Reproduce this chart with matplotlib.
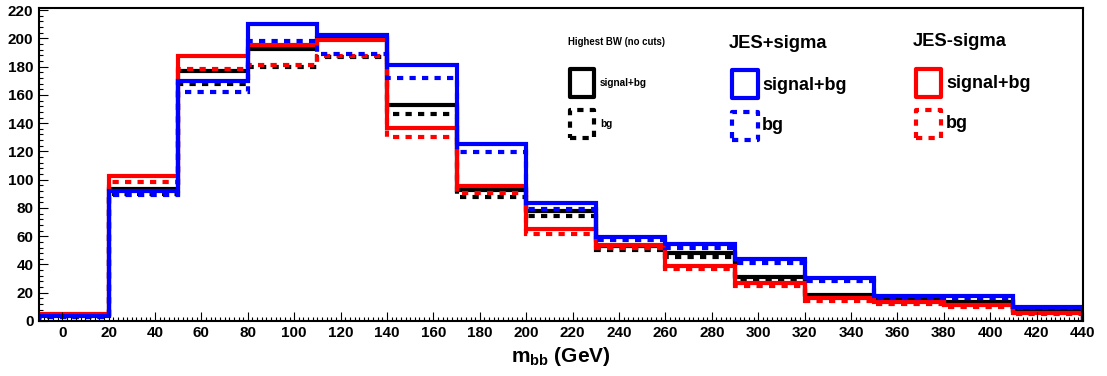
import numpy as np
import matplotlib
matplotlib.use("Agg")
import matplotlib.pyplot as plt
from matplotlib.patches import Rectangle
from matplotlib.ticker import MultipleLocator

plt.rcParams['font.family'] = ['Liberation Sans', 'DejaVu Sans']
plt.rcParams['font.weight'] = 'bold'
plt.rcParams['mathtext.fontset'] = 'custom'
plt.rcParams['mathtext.bf'] = 'Liberation Sans:bold'
plt.rcParams['mathtext.rm'] = 'Liberation Sans:bold'
plt.rcParams['mathtext.it'] = 'Liberation Sans:bold'

# ---- data ----
bin_edges = [-10, 20, 50, 80, 110, 140, 170, 200, 230, 260, 290, 320, 350, 380, 410, 440]

nominal_sig_bg = [4, 93.5, 177, 192.5, 200.5, 153, 92.6, 77.8, 53, 47.9, 31.3, 18.4, 15.5, 13.6, 7.8]
nominal_bg     = [3, 90, 167.5, 180, 187, 146.4, 87.9, 74.5, 50.2, 45.5, 29.5, 17, 15, 12.7, 7]
jes_plus_sig_bg = [3.5, 92, 170, 210, 202.5, 181, 125, 83.7, 59.6, 54.2, 43.6, 30.6, 17.7, 17.7, 9.9]
jes_plus_bg     = [2.5, 89, 162, 198, 188.8, 172.3, 119.7, 79.4, 57.3, 52, 40.8, 28.3, 16, 16.3, 9]
jes_minus_sig_bg = [5, 102.5, 187.7, 195, 198.7, 136.3, 95.5, 64.8, 53.7, 39, 26.7, 16.5, 13.4, 11.1, 5.4]
jes_minus_bg     = [4, 98.5, 178, 181, 187.4, 130, 90.7, 61.3, 51.7, 37, 24.8, 14.4, 12, 10, 4.7]

x_label = r'$\mathbf{m_{bb}}$ (GeV)'
legend_title = "Highest BW (no cuts)"
group_titles = ["JES+sigma", "JES-sigma"]
entry_labels = ["signal+bg", "bg"]

# ---- figure ----
W, H = 1107, 376
fig = plt.figure(figsize=(W / 100, H / 100), dpi=100)
ax = fig.add_axes([39 / W, 1 - 321 / H, (1083 - 39) / W, (321 - 8) / H])

lw = 3.0
dash = (0, (1.5, 1.5))
edges = np.array(bin_edges)
series = [
    (nominal_bg, 'black', dash),
    (nominal_sig_bg, 'black', '-'),
    (jes_minus_bg, '#ff0000', dash),
    (jes_minus_sig_bg, '#ff0000', '-'),
    (jes_plus_bg, '#0000ff', dash),
    (jes_plus_sig_bg, '#0000ff', '-'),
]
for vals, col, ls in series:
    ax.stairs(vals, edges, color=col, lw=lw, linestyle=ls, baseline=0)

ax.set_xlim(-10, 440)
ax.set_ylim(0, 221.5)
ax.xaxis.set_major_locator(MultipleLocator(20))
ax.xaxis.set_minor_locator(MultipleLocator(2))
ax.yaxis.set_major_locator(MultipleLocator(20))
ax.yaxis.set_minor_locator(MultipleLocator(4))
ax.tick_params(axis='both', which='both', direction='in', top=False, right=False,
               width=0.8, labelsize=11)
ax.tick_params(axis='both', which='major', length=6.5)
ax.tick_params(axis='both', which='minor', length=3)
ax.tick_params(axis='x', which='major', pad=3.5)
ax.tick_params(axis='y', which='major', pad=4)
for lab in ax.get_xticklabels() + ax.get_yticklabels():
    lab.set_fontweight('bold')
for s in ax.spines.values():
    s.set_linewidth(1.5)

fig.text(561 / W, 1 - 357 / H, x_label, ha='center', va='center', fontsize=15,
         fontweight='bold')

# ---- legend (figure pixel coordinates) ----
def box(x0, y0, x1, y1, color, ls):
    r = Rectangle((x0 / W, 1 - y1 / H), (x1 - x0) / W, (y1 - y0) / H,
                  transform=fig.transFigure, fill=False, edgecolor=color,
                  lw=3.0, linestyle=ls, joinstyle='round')
    fig.add_artist(r)

def txt(x, y, s, size):
    fig.text(x / W, 1 - y / H, s, ha='left', va='center', fontsize=size,
             fontweight='bold')

txt(568, 42, legend_title, 6.9)
box(570, 69, 594, 97, 'black', '-')
txt(600, 83, entry_labels[0], 7.2)
box(570, 110, 594, 138, 'black', dash)
txt(600, 124, entry_labels[1], 7.2)

txt(729, 43, group_titles[0], 13.2)
box(732, 70, 758, 98, '#0000ff', '-')
txt(762, 85, entry_labels[0], 13)
box(732, 112, 758, 140, '#0000ff', dash)
txt(762, 126, entry_labels[1], 13)

txt(913, 41, group_titles[1], 13.2)
box(916, 69, 941, 97, '#ff0000', '-')
txt(946, 83, entry_labels[0], 13)
box(916, 110, 941, 138, '#ff0000', dash)
txt(946, 124, entry_labels[1], 13)

fig.savefig("out.png", dpi=100)
